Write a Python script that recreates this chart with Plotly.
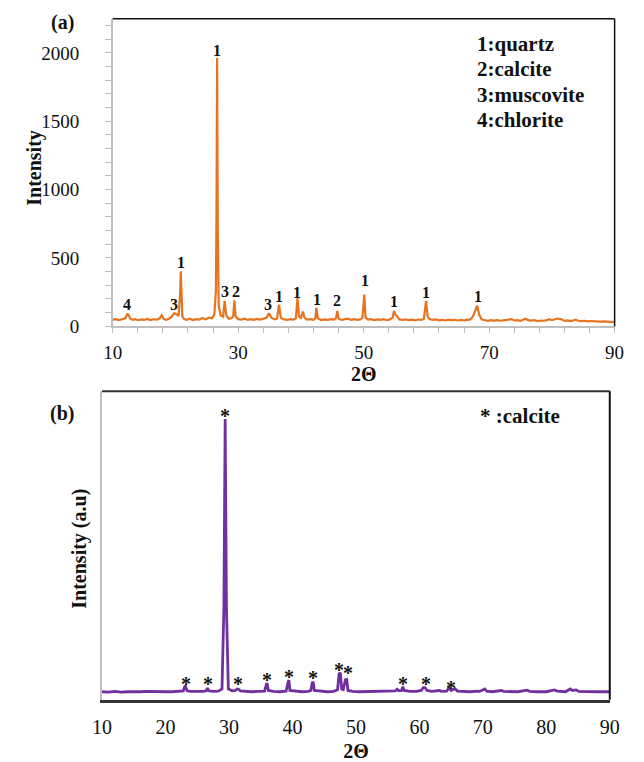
import plotly.graph_objects as go

# ---------------- Panel (a): raw sample XRD ----------------
two_theta_a = [
    10.0, 10.5, 11.0, 11.5, 12.0, 12.3, 12.5, 12.8, 13.2, 13.6,
    14.0, 14.5, 15.0, 15.5, 16.0, 16.5, 17.0, 17.5, 17.8, 18.1,
    18.5, 19.0, 19.4, 19.8, 20.2, 20.5, 20.75, 20.85, 20.95, 21.1,
    21.4, 21.8, 22.3, 22.8, 23.3, 23.8, 24.3, 24.8, 25.3, 25.8,
    26.2, 26.45, 26.55, 26.64, 26.75, 26.9, 27.2, 27.6, 27.85, 28.1,
    28.5, 29.0, 29.2, 29.4, 29.6, 30.0, 30.5, 31.0, 31.5, 32.0,
    32.5, 33.0, 33.5, 34.0, 34.5, 34.9, 35.3, 35.8, 36.2, 36.5,
    36.8, 37.3, 37.8, 38.3, 38.8, 39.2, 39.45, 39.7, 40.0, 40.3,
    40.6, 41.0, 41.5, 42.0, 42.3, 42.45, 42.7, 43.2, 43.8, 44.3,
    44.8, 45.3, 45.6, 45.8, 46.0, 46.5, 47.0, 47.5, 48.0, 48.5,
    49.0, 49.5, 49.8, 50.1, 50.3, 50.7, 51.2, 51.7, 52.2, 52.7,
    53.2, 53.7, 54.2, 54.6, 54.85, 55.1, 55.3, 55.7, 56.2, 56.7,
    57.2, 57.7, 58.2, 58.7, 59.2, 59.6, 59.95, 60.2, 60.5, 61.0,
    61.5, 62.0, 62.5, 63.0, 63.5, 64.0, 64.5, 65.0, 65.5, 66.0,
    66.5, 67.0, 67.4, 67.75, 68.1, 68.4, 68.8, 69.3, 69.8, 70.3,
    70.8, 71.3, 71.8, 72.3, 72.8, 73.3, 73.6, 74.0, 74.5, 75.0,
    75.5, 75.8, 76.2, 76.7, 77.2, 77.7, 78.2, 78.7, 79.2, 79.6,
    80.0, 80.4, 80.9, 81.4, 81.7, 82.0, 82.5, 83.0, 83.5, 83.8,
    84.2, 84.7, 85.2, 85.7, 86.2, 86.7, 87.2, 87.7, 88.2, 88.7,
    89.2, 89.6, 90.0,
]
intensity_a = [
    48, 52, 45, 50, 58, 88, 85, 55, 47, 52,
    44, 50, 46, 53, 45, 51, 48, 58, 80, 55,
    47, 55, 70, 95, 88, 75, 240, 402, 230, 70,
    52, 47, 55, 45, 52, 48, 60, 50, 62, 58,
    85, 260, 900, 1962, 700, 150, 80, 70, 185, 80,
    55, 60, 75, 190, 70, 52, 48, 55, 46, 52,
    47, 53, 48, 55, 62, 95, 62, 50, 55, 158,
    60, 50, 47, 52, 48, 58, 205, 70, 60, 108,
    60, 48, 52, 47, 58, 135, 58, 45, 50, 46,
    52, 48, 60, 112, 55, 46, 50, 55, 47, 52,
    46, 50, 60, 232, 62, 48, 52, 45, 50, 46,
    52, 44, 50, 62, 112, 80, 75, 50, 46, 50,
    44, 48, 43, 49, 46, 55, 185, 70, 52, 46,
    50, 43, 47, 42, 48, 44, 47, 42, 46, 43,
    47, 50, 70, 105, 150, 85, 50, 44, 40, 45,
    41, 44, 40, 43, 47, 55, 52, 42, 44, 40,
    48, 55, 45, 41, 44, 38, 42, 40, 45, 52,
    44, 50, 56, 52, 45, 40, 43, 38, 44, 48,
    40, 37, 40, 36, 38, 35, 37, 34, 36, 33,
    35, 32, 30,
]
labels_a = ["4", "3", "1", "1", "3", "2", "3", "1", "1", "1", "2", "1", "1", "1", "1"]
label_x_a = [12.3, 19.7, 20.85, 26.64, 27.87, 29.66, 34.8, 36.5, 39.45, 42.5, 45.8, 50.15, 54.9, 59.95, 68.2]
label_y_a = [160, 156, 468, 2018, 254, 254, 156, 218, 247, 199, 187, 331, 180, 247, 216]
legend_a = ["1:quartz", "2:calcite", "3:muscovite", "4:chlorite"]

# ---------------- Panel (b): calcite XRD (a.u.) ----------------
two_theta_b = [
    10.0, 11.0, 12.0, 13.0, 14.0, 15.0, 16.0, 17.0, 18.0, 19.0,
    20.0, 21.0, 22.0, 22.8, 23.1, 23.4, 24.0, 25.0, 26.0, 26.4,
    26.6, 26.8, 27.5, 28.3, 28.9, 29.2, 29.4, 29.6, 29.9, 30.5,
    31.0, 31.3, 31.5, 31.8, 32.5, 33.5, 34.5, 35.6, 35.9, 36.0,
    36.2, 37.0, 38.0, 39.0, 39.35, 39.45, 39.6, 40.5, 41.5, 42.5,
    42.9, 43.15, 43.3, 43.45, 44.5, 45.5, 46.5, 47.1, 47.35, 47.55,
    47.75, 48.0, 48.35, 48.55, 48.75, 49.5, 50.5, 52.0, 53.5, 55.0,
    56.2, 56.5, 56.8, 57.2, 57.4, 57.6, 58.5, 59.5, 60.3, 60.6,
    60.9, 61.2, 62.0, 63.1, 63.5, 64.3, 64.7, 65.0, 65.6, 66.0,
    67.0, 68.0, 69.2, 69.5, 70.3, 70.6, 71.5, 72.9, 73.3, 74.5,
    75.5, 77.0, 77.4, 78.5, 80.0, 81.3, 81.7, 83.0, 83.8, 84.1,
    84.7, 85.1, 86.0, 87.0, 88.0, 89.0, 90.0,
]
intensity_b = [
    2.6, 2.5, 2.7, 2.5, 2.6, 2.5, 2.6, 2.7, 2.6, 2.5,
    2.6, 2.6, 2.7, 2.9, 4.6, 2.9, 2.7, 2.6, 2.7, 2.9,
    3.8, 2.9, 2.7, 2.8, 3.5, 30.0, 91.0, 30.0, 3.5, 2.9,
    3.0, 3.5, 3.4, 2.9, 2.7, 2.6, 2.7, 2.8, 5.0, 5.4,
    3.0, 2.7, 2.6, 2.8, 6.0, 6.3, 3.0, 2.7, 2.6, 2.7,
    3.0, 5.8, 5.4, 3.0, 2.7, 2.6, 2.7, 3.2, 8.4, 8.7,
    3.5, 3.3, 6.5, 6.6, 3.0, 2.7, 2.6, 2.7, 2.6, 2.7,
    2.9, 3.4, 2.9, 3.0, 4.2, 3.0, 2.7, 2.7, 3.0, 3.9,
    3.9, 3.0, 2.7, 3.0, 2.7, 2.8, 3.9, 3.0, 3.6, 2.8,
    2.6, 2.6, 2.8, 2.7, 3.5, 2.8, 2.6, 3.0, 2.7, 2.6,
    2.6, 3.1, 2.7, 2.6, 2.6, 3.2, 2.8, 2.6, 3.5, 3.0,
    3.2, 2.7, 2.6, 2.6, 2.6, 2.6, 2.6,
]
star_x_b = [23.2, 26.7, 29.4, 31.4, 36.06, 39.5, 43.3, 47.4, 48.8, 57.4, 61.0, 65.0]
star_y_b = [6.4, 6.4, 93.3, 6.4, 7.7, 8.7, 8.5, 10.9, 9.9, 6.4, 6.4, 5.0]
legend_b = "* :calcite"

x_ticks_a = [10, 30, 50, 70, 90]
x_ticks_b = [10, 20, 30, 40, 50, 60, 70, 80, 90]
y_ticks_a = [0, 500, 1000, 1500, 2000]

SERIF = "Liberation Serif, Times New Roman, serif"
W, H = 644, 762

def px(x):
    return x / W

def py(y):
    return 1 - y / H

fig = go.Figure()
fig.add_trace(go.Scatter(x=two_theta_a, y=intensity_a, mode="lines",
                         line=dict(color="#E8731F", width=2.2), xaxis="x", yaxis="y",
                         showlegend=False, hoverinfo="skip"))
fig.add_trace(go.Scatter(x=two_theta_b, y=intensity_b, mode="lines",
                         line=dict(color="#7030A0", width=2.8), xaxis="x2", yaxis="y2",
                         showlegend=False, hoverinfo="skip"))

annotations = []
for t, lx, ly in zip(labels_a, label_x_a, label_y_a):
    annotations.append(dict(x=lx, y=ly, xref="x", yref="y", text="<b>%s</b>" % t, showarrow=False,
                            font=dict(family=SERIF, size=16, color="#111"),
                            xanchor="center", yanchor="middle"))
for sx, sy in zip(star_x_b, star_y_b):
    annotations.append(dict(x=sx, y=sy, xref="x2", yref="y2", text="<b>*</b>", showarrow=False,
                            font=dict(family=SERIF, size=20, color="#111"),
                            xanchor="center", yanchor="middle", yshift=-4))
for i, t in enumerate(legend_a):
    annotations.append(dict(x=px(480), y=py(45 + 25.5 * i), xref="paper", yref="paper",
                            text="<b>%s</b>" % t, showarrow=False, xanchor="left", yanchor="middle",
                            font=dict(family=SERIF, size=21, color="#111")))
annotations.append(dict(x=px(483), y=py(422), xref="paper", yref="paper",
                        text="<b>%s</b>" % legend_b, showarrow=False, xanchor="left", yanchor="middle",
                        font=dict(family=SERIF, size=21, color="#111")))
for txt, x, y, ang in [("(a)", 54, 23, 0), ("(b)", 54, 420, 0),
                       ("Intensity", 25, 170, -90), ("Intensity (a.u)", 72, 557, -90)]:
    annotations.append(dict(x=px(x), y=py(y), xref="paper", yref="paper",
                            text="<b>%s</b>" % txt, showarrow=False, textangle=ang,
                            xanchor="center", yanchor="middle",
                            font=dict(family=SERIF, size=20, color="#111")))

shapes = [
    # panel a frame (top, right)
    dict(type="line", xref="paper", yref="paper", x0=px(106), x1=px(624), y0=py(19), y1=py(19),
         line=dict(color="#111", width=1.5)),
    dict(type="line", xref="paper", yref="paper", x0=px(624), x1=px(624), y0=py(19), y1=py(331),
         line=dict(color="#111", width=1.5)),
    # panel b frame (top, right)
    dict(type="line", xref="paper", yref="paper", x0=px(95), x1=px(619), y0=py(397), y1=py(397),
         line=dict(color="#333", width=2)),
    dict(type="line", xref="paper", yref="paper", x0=px(619), x1=px(619), y0=py(397), y1=py(710),
         line=dict(color="#111", width=2)),
]

title_font = dict(family=SERIF, size=20, color="#111")

fig.update_layout(
    width=W, height=H,
    margin=dict(l=0, r=0, t=0, b=0),
    paper_bgcolor="white", plot_bgcolor="white",
    showlegend=False,
    font=dict(family=SERIF, color="#111"),
    xaxis=dict(domain=[px(106), px(624)], range=[10, 90], anchor="y",
               tickmode="array", tickvals=x_ticks_a, ticks="outside", ticklen=5,
               tickcolor="#BFBFBF", tickwidth=1, ticklabelstandoff=3,
               minor=dict(dtick=4, tick0=10, ticks="outside", ticklen=5, tickcolor="#BFBFBF"),
               showline=True, linecolor="#BFBFBF", linewidth=1.5, showgrid=False, zeroline=False,
               tickfont=dict(family=SERIF, size=19, color="#111"),
               title=dict(text="<b>2Θ</b>", font=title_font, standoff=2)),
    yaxis=dict(domain=[py(331), py(19)], range=[0, 2250], anchor="x",
               tickmode="array", tickvals=y_ticks_a, ticks="outside", ticklen=6,
               tickcolor="#BFBFBF", tickwidth=1, ticklabelstandoff=22,
               minor=dict(dtick=100, tick0=0, ticks="outside", ticklen=6, tickcolor="#BFBFBF"),
               showline=True, linecolor="#BFBFBF", linewidth=1.5, showgrid=False, zeroline=False,
               tickfont=dict(family=SERIF, size=19, color="#111")),
    xaxis2=dict(domain=[px(95), px(619)], range=[10, 90], anchor="y2",
                tickmode="array", tickvals=x_ticks_b, ticks="",
                showline=True, linecolor="#333", linewidth=3, showgrid=False, zeroline=False,
                ticklabelstandoff=7,
                tickfont=dict(family=SERIF, size=20, color="#111"),
                title=dict(text="<b>2Θ</b>", font=title_font, standoff=10)),
    yaxis2=dict(domain=[py(710), py(397)], range=[0, 100], anchor="x2",
                showticklabels=False, ticks="",
                showline=True, linecolor="#BFBFBF", linewidth=1.5, showgrid=False, zeroline=False),
    annotations=annotations,
    shapes=shapes,
)

fig.write_html("out.html")
